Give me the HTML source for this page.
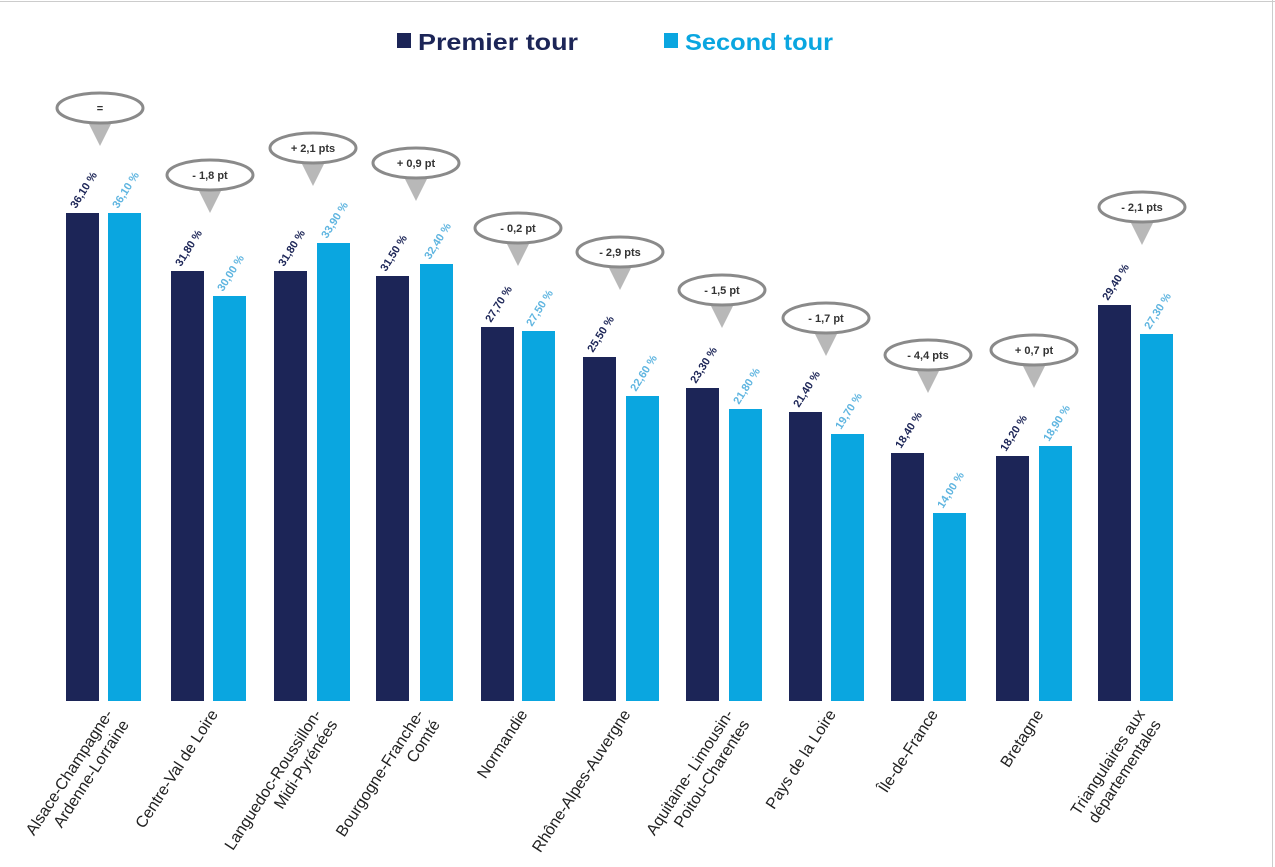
<!DOCTYPE html>
<html><head><meta charset="utf-8"><style>
body{margin:0;background:#fff;}
svg{display:block;font-family:"Liberation Sans",sans-serif;}
</style></head><body>
<svg width="1275" height="867" viewBox="0 0 1275 867">
<line x1="0" y1="1.5" x2="1275" y2="1.5" stroke="#ccc"/>
<line x1="1272.5" y1="0" x2="1272.5" y2="867" stroke="#ccc"/>
<rect x="397" y="33" width="14" height="15" fill="#1c2557"/>
<text x="418" y="50" font-size="23" font-weight="bold" fill="#1c2557" textLength="160" lengthAdjust="spacingAndGlyphs">Premier tour</text>
<rect x="664" y="33" width="14" height="15" fill="#0aa6e0"/>
<text x="685" y="50" font-size="23" font-weight="bold" fill="#0aa6e0" textLength="148" lengthAdjust="spacingAndGlyphs">Second tour</text>
<g id="bars"></g>
</svg>
<script>
const d=[[66,108,213,213,"36,10 %","36,10 %","=",100,108,"Alsace-Champagne-|Ardenne-Lorraine"],
[171,213,271,296,"31,80 %","30,00 %","- 1,8 pt",210,175,"Centre-Val de Loire"],
[274,317,271,243,"31,80 %","33,90 %","+ 2,1 pts",313,148,"Languedoc-Roussillon-|Midi-Pyrénées"],
[376,420,276,264,"31,50 %","32,40 %","+ 0,9 pt",416,163,"Bourgogne-Franche-|Comté"],
[481,522,327,331,"27,70 %","27,50 %","- 0,2 pt",518,228,"Normandie"],
[583,626,357,396,"25,50 %","22,60 %","- 2,9 pts",620,252,"Rhône-Alpes-Auvergne"],
[686,729,388,409,"23,30 %","21,80 %","- 1,5 pt",722,290,"Aquitaine- Limousin-|Poitou-Charentes"],
[789,831,412,434,"21,40 %","19,70 %","- 1,7 pt",826,318,"Pays de la Loire"],
[891,933,453,513,"18,40 %","14,00 %","- 4,4 pts",928,355,"Île-de-France"],
[996,1039,456,446,"18,20 %","18,90 %","+ 0,7 pt",1034,350,"Bretagne"],
[1098,1140,305,334,"29,40 %","27,30 %","- 2,1 pts",1142,207,"Triangulaires aux|départementales"]];
let s="";const B=701;
for(const r of d){
 s+=`<rect x="${r[0]}" y="${r[2]}" width="33" height="${B-r[2]}" fill="#1c2557"/>`;
 s+=`<rect x="${r[1]}" y="${r[3]}" width="33" height="${B-r[3]}" fill="#0aa6e0"/>`;
 let cx=r[0]+16,cy=r[2]-4;
 s+=`<text transform="translate(${cx-6},${cy}) rotate(-58)" font-size="11" font-weight="bold" fill="#1c2557">${r[4]}</text>`;
 cx=r[1]+16;cy=r[3]-4;
 s+=`<text transform="translate(${cx-6},${cy}) rotate(-58)" font-size="11" font-weight="bold" fill="#5fb5e0">${r[5]}</text>`;
 const bx=r[7],by=r[8];
 s+=`<polygon points="${bx-12},${by+14} ${bx+12},${by+14} ${bx},${by+38}" fill="#b8b8b8"/>`;
 s+=`<ellipse cx="${bx}" cy="${by}" rx="43" ry="15" fill="#fff" stroke="#8a8a8a" stroke-width="3"/>`;
 s+=`<text x="${bx}" y="${by+4}" text-anchor="middle" font-size="11" font-weight="bold" fill="#333">${r[6]}</text>`;
 const lines=r[9].split("|");const ax=(r[0]+r[1]+33)/2+10,ay=714;
 s+=`<text transform="translate(${ax},${ay}) rotate(-57)" font-size="16" fill="#222" text-anchor="end">`;
 lines.forEach((l,i)=>{s+=`<tspan x="0" dy="${i?19:0}">${l}</tspan>`});
 s+=`</text>`;
}
document.getElementById("bars").innerHTML=s;
</script>
</body></html>
